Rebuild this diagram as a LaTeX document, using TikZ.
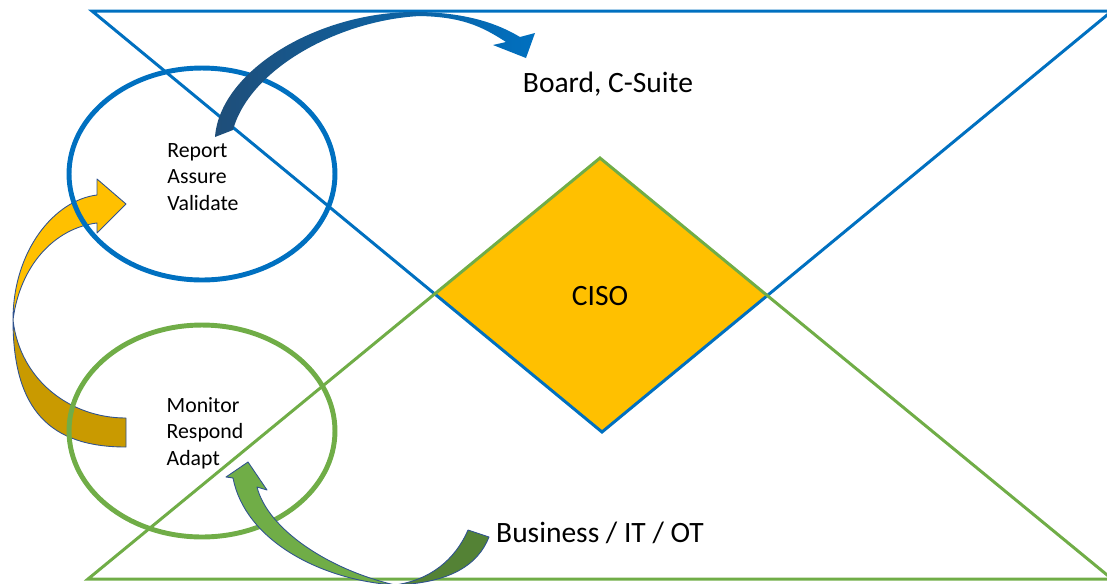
\documentclass[tikz,border=0pt]{standalone}
\usepackage{fontspec}
\setmainfont{Carlito}
\usepackage{tikz}
\usetikzlibrary{shapes.geometric}
\definecolor{tblue}{HTML}{0070C0}
\definecolor{tgreen}{HTML}{70AD47}
\definecolor{tgold}{HTML}{FFC000}
\definecolor{tdarkgold}{HTML}{C99A00}
\definecolor{tdarkgreen}{HTML}{548235}
\definecolor{tnavy}{HTML}{1F4E79}
\definecolor{tline}{HTML}{2F528F}

\begin{document}
\begin{tikzpicture}[x=0.02cm, y=-0.02cm,
  ring/.style={shape=ellipse, draw=#1, line width=2.8pt, minimum width=5.32cm, minimum height=4.24cm},
  lines/.style={align=left, font=\fontsize{12.4}{15}\selectfont},
  side/.style={draw=#1, line width=1.7pt},
  band/.style={fill=#1, draw=tline, line width=0.5pt, line join=round},
  bigtext/.style={font=\fontsize{16.8}{20}\selectfont}]
\useasboundingbox (0,0) rectangle (1107,583);

% corners of the two triangles
\coordinate (BL) at (92,11);
\coordinate (BR) at (1112,11);
\coordinate (BB) at (602,432);
\coordinate (GL) at (88,579);
\coordinate (GR) at (1112,579);
\coordinate (GT) at (600,158);

\fill[tgold] (GT) -- (intersection of BL--BB and GL--GT) -- (BB) -- (intersection of BR--BB and GR--GT) -- cycle;
\node[bigtext](ciso) at (600,296) {CISO};

\draw[side=tblue] (BL) -- (BR) -- (BB) -- cycle;
\draw[side=tgreen] (GL) -- (GT) -- (GR) -- cycle;

% left arrow, two halves
\path[band=tdarkgold] (13,320) .. controls (13,410) and (50,447) .. (126,447) -- (126,418) .. controls (70,418) and (20,380) .. (13,320) -- cycle;
\path[band=tgold] (13,320) .. controls (13,250) and (55,200) .. (97,195) -- (97,179) -- (126,204) -- (97,233) -- (97,223) .. controls (55,228) and (20,265) .. (13,320) -- cycle;

\node[ring=tblue](reportring) at (202,174) {};
\node[ring=tgreen](monitorring) at (202,431) {};
\node[lines](report) at (203,177) {Report\\Assure\\Validate};
\node[lines](monitor) at (205,433) {Monitor\\Respond\\Adapt};

% top arrow
\shade[left color=tnavy, right color=tblue] (215,137) .. controls (220,70) and (320,10) .. (420,12) .. controls (470,13) and (500,25) .. (520,37) -- (535,33) -- (526,58) -- (493,45) -- (506,42) .. controls (480,25) and (460,17) .. (420,16) .. controls (340,20) and (250,68) .. (233,130) -- cycle;

% bottom arrow
\path[band=tdarkgreen] (468,530) -- (489,537) .. controls (478,565) and (450,583) .. (395,585) .. controls (430,580) and (455,560) .. (468,530) -- cycle;
\path[band=tgreen] (395,585) .. controls (320,580) and (245,540) .. (233,478) -- (226,477) -- (248,462) -- (267,490) -- (257,487) .. controls (268,530) and (330,570) .. (395,585) -- cycle;

\node[bigtext](board) at (608,84) {Board, C-Suite};
\node[bigtext](business) at (600,533) {Business / IT / OT};
\end{tikzpicture}
\end{document}
